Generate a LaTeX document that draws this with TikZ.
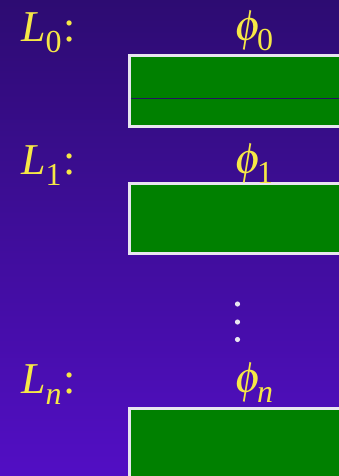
\documentclass[tikz,border=0pt]{standalone}
\usepackage{mathptmx}
\usepackage{fontspec}
\setmainfont{Liberation Serif}
\definecolor{bgtop}{RGB}{45,12,114}
\definecolor{bgbot}{RGB}{82,14,196}
\definecolor{labelyellow}{RGB}{246,232,70}
\definecolor{boxgreen}{RGB}{0,128,0}
\definecolor{boxedge}{RGB}{232,230,240}
\definecolor{divider}{RGB}{36,20,96}
% lowered, smaller index
\newcommand\lvlsub[2][11pt]{\raisebox{-#1}{\fontsize{32}{32}\selectfont #2}}
% level name "L_i:" with the colon at a fixed offset
\newcommand\lvlname[1]{\makebox[42pt][l]{\itshape L\upshape\lvlsub{#1}}:}
\newcommand\lvlphi[1]{$\phi$\hspace{-5pt}\lvlsub[10pt]{#1}}
\tikzset{
  lab/.style={anchor=base west, inner sep=0pt, text=labelyellow,
    font=\fontsize{44}{50}\selectfont},
  level/.style={fill=boxgreen, draw=boxedge, line width=3pt},
  dot/.style={fill=boxedge}
}
\begin{document}
\begin{tikzpicture}[x=1pt,y=-1pt]
  \useasboundingbox (0,0) rectangle (339,476);
  \shade[shading=axis, top color=bgtop, bottom color=bgbot] (0,0) rectangle (339,476);
  \begin{scope}
    \clip (0,0) rectangle (339,476);
    % level 0 (with a divider line)
    \draw[level] (129.5,55.5) rectangle (360,126);
    \draw[divider, line width=1pt] (131,99) -- (360,99);
    % level 1
    \draw[level] (129.5,183) rectangle (360,253);
    % level n
    \draw[level] (129.5,408) rectangle (360,490);
  \end{scope}
  % labels
  \node[lab] (L0) at (21,42) {\lvlname{0}};
  \node[lab] (p0) at (234,41) {\lvlphi{0}};
  \node[lab] (L1) at (21,174) {\lvlname{1}};
  \node[lab] (p1) at (234,173) {\lvlphi{1}};
  \node[lab] (Ln) at (21,393) {\lvlname{\itshape n}};
  \node[lab] (pn) at (234,392) {\lvlphi{\itshape n}};
  % vertical ellipsis
  \fill[dot] (237.5,304) circle (2.6);
  \fill[dot] (237.5,322) circle (2.6);
  \fill[dot] (237.5,339.5) circle (2.6);
\end{tikzpicture}
\end{document}
